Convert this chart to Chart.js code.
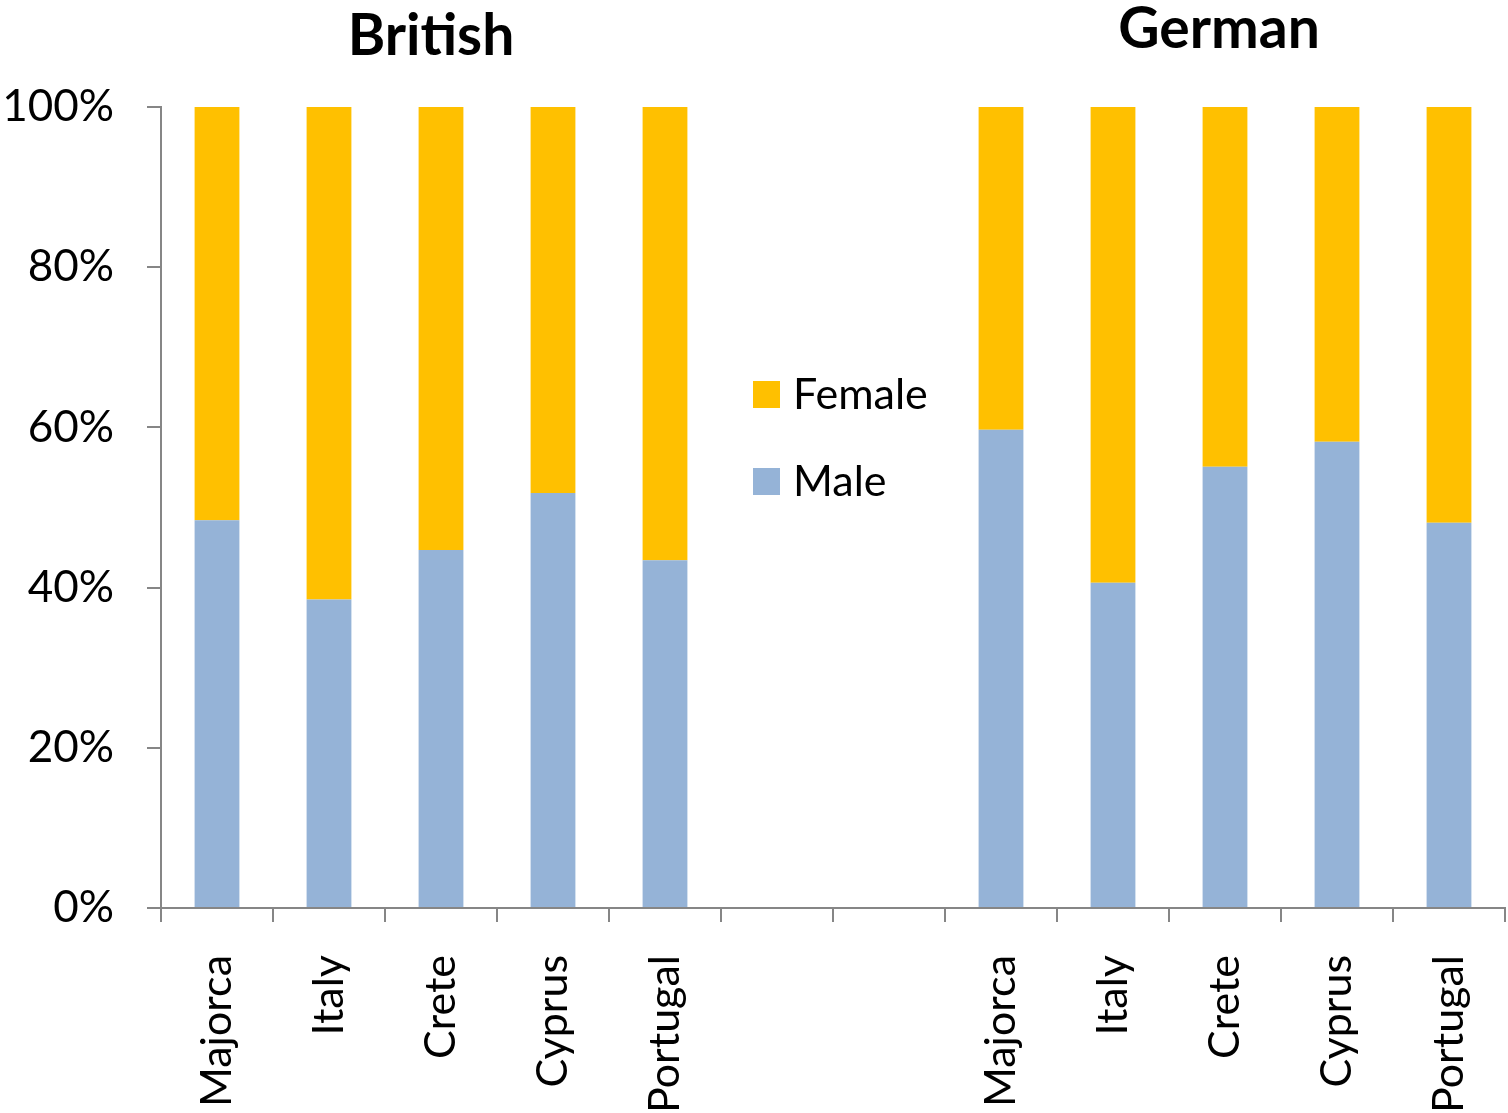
<!DOCTYPE html>
<html>
<head>
<meta charset="utf-8">
<style>
  html, body { margin: 0; padding: 0; background: #fff; }
  #wrap { width: 1508px; height: 1113px; position: relative; }
</style>
<script src="https://cdn.jsdelivr.net/npm/chart.js@4/dist/chart.umd.min.js"></script>
</head>
<body>
<div id="wrap"><canvas id="chart" width="1508" height="1113"></canvas></div>
<script>
// two nationality groups, separated by two empty slots
const categories = ['Majorca', 'Italy', 'Crete', 'Cyprus', 'Portugal', '', '',
                    'Majorca', 'Italy', 'Crete', 'Cyprus', 'Portugal'];
const male   = [48.4, 38.5, 44.7, 51.8, 43.4, null, null, 59.7, 40.6, 55.1, 58.2, 48.1];
const female = [51.6, 61.5, 55.3, 48.2, 56.6, null, null, 40.3, 59.4, 44.9, 41.8, 51.9];
const groups = ['British', 'German'];
const yTicks = [0, 20, 40, 60, 80, 100];

const FONT = 'Lato, "Open Sans", sans-serif';
const AXIS = '#868686';

// group titles + legend in the empty middle
const overlay = {
  id: 'overlay',
  afterDraw(chart) {
    const ctx = chart.ctx;
    const x = chart.scales.x;
    ctx.save();
    ctx.fillStyle = '#000';
    ctx.textAlign = 'center';
    ctx.textBaseline = 'alphabetic';
    ctx.font = 'bold 57px ' + FONT;
    ctx.fillText(groups[0], x.getPixelForValue(2) - 10, 55);
    ctx.fillText(groups[1], x.getPixelForValue(9) - 6, 48);

    // legend, Female on top
    const items = [chart.data.datasets[1], chart.data.datasets[0]];
    ctx.font = '43px ' + FONT;
    ctx.textAlign = 'left';
    ctx.textBaseline = 'middle';
    items.forEach((ds, i) => {
      const y = 381 + i * 87;
      ctx.fillStyle = ds.backgroundColor;
      ctx.fillRect(753, y, 27, 27);
      ctx.fillStyle = '#000';
      ctx.fillText(ds.label, 793, y + 14);
    });
    ctx.restore();
  }
};

new Chart(document.getElementById('chart'), {
  type: 'bar',
  data: {
    labels: categories,
    datasets: [
      { label: 'Male', data: male, backgroundColor: '#95B3D7' },
      { label: 'Female', data: female, backgroundColor: '#FFC000' }
    ]
  },
  options: {
    responsive: false,
    animation: false,
    layout: { padding: { top: 107, right: 3, left: 0, bottom: 0 } },
    datasets: { bar: { categoryPercentage: 1, barPercentage: 0.4 } },
    plugins: { legend: { display: false }, tooltip: { enabled: false } },
    scales: {
      x: {
        stacked: true,
        afterFit: s => { s.height = 205; s.paddingLeft = 0; s.paddingRight = 0; },
        border: { color: AXIS, width: 2 },
        grid: { drawOnChartArea: false, tickLength: 14, color: AXIS, lineWidth: 2, offset: true },
        ticks: {
          autoSkip: false, minRotation: 90, maxRotation: 90, padding: 33,
          color: '#000', font: { family: FONT, size: 43 }
        }
      },
      y: {
        stacked: true,
        min: 0, max: 100,
        afterFit: s => { s.width = 161; s.paddingTop = 0; s.paddingBottom = 0; },
        afterBuildTicks: s => { s.ticks = yTicks.map(v => ({ value: v })); },
        border: { color: AXIS, width: 2 },
        grid: { drawOnChartArea: false, tickLength: 14, color: AXIS, lineWidth: 2 },
        ticks: {
          padding: 33, color: '#000', font: { family: FONT, size: 44 },
          callback: v => v + '%'
        }
      }
    }
  },
  plugins: [overlay]
});
</script>
</body>
</html>
